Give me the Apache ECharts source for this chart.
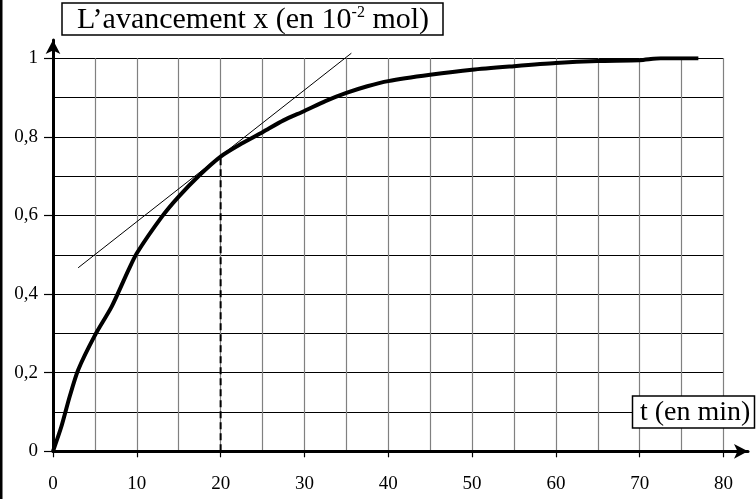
<!DOCTYPE html>
<html>
<head>
<meta charset="utf-8">
<script src="https://cdn.jsdelivr.net/npm/echarts@6/dist/echarts.min.js"></script>
<style>
html,body{margin:0;padding:0;background:#fff;}
#chart{width:756px;height:499px;}
</style>
</head>
<body>
<div id="chart"></div>
<script>
// Data
const timeMin = [0, 1, 2, 3, 5, 7, 9, 10, 13, 15, 17.5, 20, 22.5, 25, 27.5, 30, 32.5, 35, 37.5, 40, 45, 50, 55, 60, 65, 70, 72.5, 77];
const advancement = [0, 0.063, 0.14, 0.207, 0.295, 0.368, 0.461, 0.504, 0.597, 0.648, 0.703, 0.75, 0.783, 0.812, 0.842, 0.866, 0.891, 0.912, 0.929, 0.942, 0.958, 0.971, 0.98, 0.988, 0.993, 0.995, 1, 1];
const tangentT = [3, 35.6];
const tangentX = [0.467, 1.013];
const markerT = [20, 20];
const markerX = [0, 0.75];
const xTicks = [0, 10, 20, 30, 40, 50, 60, 70, 80];
const yTicks = ['0', '0,2', '0,4', '0,6', '0,8', '1'];
const titleY = ['L’avancement x (en 10', '-2', ' mol)'];
const titleX = 't (en min)';

const F = '"Liberation Serif", "Times New Roman", serif';
const pairs = (a, b) => a.map((v, i) => [v, b[i]]);

const chart = echarts.init(document.getElementById('chart'), null, {renderer: 'canvas'});
const gridLine = {color: '#808080', width: 1.2};
const hLine = {color: '#000', width: 1};

chart.setOption({
  animation: false,
  backgroundColor: '#fff',
  grid: [
    {left: 53, right: 32.5, top: 58.3, bottom: 47.7},
    {left: 53, right: 8, top: 40, bottom: 47.7}
  ],
  xAxis: [
    {
      type: 'value', gridIndex: 0, min: xTicks[0], max: xTicks[xTicks.length - 1], interval: 10,
      axisLine: {show: false},
      axisTick: {show: true, length: 6, lineStyle: {color: '#000', width: 1.2}},
      axisLabel: {margin: 23, fontSize: 19, color: '#000', fontFamily: F,
        formatter: v => xTicks.indexOf(v) >= 0 ? String(v) : ''},
      splitLine: {show: true, lineStyle: gridLine},
      minorTick: {show: false, splitNumber: 2},
      minorSplitLine: {show: true, lineStyle: gridLine}
    },
    {
      type: 'value', gridIndex: 1, min: 0, max: 1,
      axisLine: {show: true, onZero: false, symbol: ['none', 'arrow'], symbolSize: [11, 14],
        lineStyle: {color: '#000', width: 3}},
      axisTick: {show: false}, axisLabel: {show: false}, splitLine: {show: false}
    }
  ],
  yAxis: [
    {
      type: 'value', gridIndex: 0, min: 0, max: 1, interval: 0.2,
      axisLine: {show: false},
      axisTick: {show: true, length: 9, lineStyle: {color: '#000', width: 1.2}},
      axisLabel: {margin: 15, fontSize: 19, color: '#000', fontFamily: F, padding: [0, 0, 6, 0],
        formatter: v => yTicks[Math.round(v / 0.2)]},
      splitLine: {show: true, lineStyle: hLine},
      minorTick: {show: false, splitNumber: 2},
      minorSplitLine: {show: true, lineStyle: hLine}
    },
    {
      type: 'value', gridIndex: 1, min: 0, max: 1,
      axisLine: {show: true, onZero: false, symbol: ['none', 'arrow'], symbolSize: [11, 14],
        lineStyle: {color: '#000', width: 3}},
      axisTick: {show: false}, axisLabel: {show: false}, splitLine: {show: false}
    }
  ],
  series: [
    {
      type: 'line', xAxisIndex: 0, yAxisIndex: 0, data: pairs(timeMin, advancement),
      showSymbol: false, smooth: 0.25, z: 5,
      lineStyle: {color: '#000', width: 4}
    },
    {
      type: 'line', xAxisIndex: 0, yAxisIndex: 0, data: pairs(tangentT, tangentX),
      showSymbol: false, clip: false, z: 4,
      lineStyle: {color: '#000', width: 1}
    },
    {
      type: 'line', xAxisIndex: 0, yAxisIndex: 0, data: pairs(markerT, markerX),
      showSymbol: false, z: 4,
      lineStyle: {color: '#000', width: 2, type: [7, 4]}
    }
  ],
  graphic: [
    {type: 'rect', left: 0, top: 0, shape: {x: 0, y: 0, width: 2.5, height: 499}, style: {fill: '#000'}, z: 100},
    {type: 'rect', shape: {x: 62, y: 3, width: 381, height: 32}, style: {fill: '#fff', stroke: '#000', lineWidth: 1.5}, z: 100},
    {type: 'text', x: 77, y: 20, z: 101,
      style: {text: '{a|' + titleY[0] + '}{s|' + titleY[1] + '}{a|' + titleY[2] + '}',
        align: 'left', verticalAlign: 'middle',
        rich: {a: {fontSize: 30, fontFamily: F, fill: '#000'},
               s: {fontSize: 16, fontFamily: F, fill: '#000', verticalAlign: 'top'}}}},
    {type: 'rect', shape: {x: 632.5, y: 396, width: 122, height: 32}, style: {fill: '#fff', stroke: '#000', lineWidth: 1.5}, z: 100},
    {type: 'text', x: 640, y: 413, z: 101,
      style: {text: titleX, align: 'left', verticalAlign: 'middle', fontSize: 28, fontFamily: F, fill: '#000'}}
  ]
});
</script>
</body>
</html>
